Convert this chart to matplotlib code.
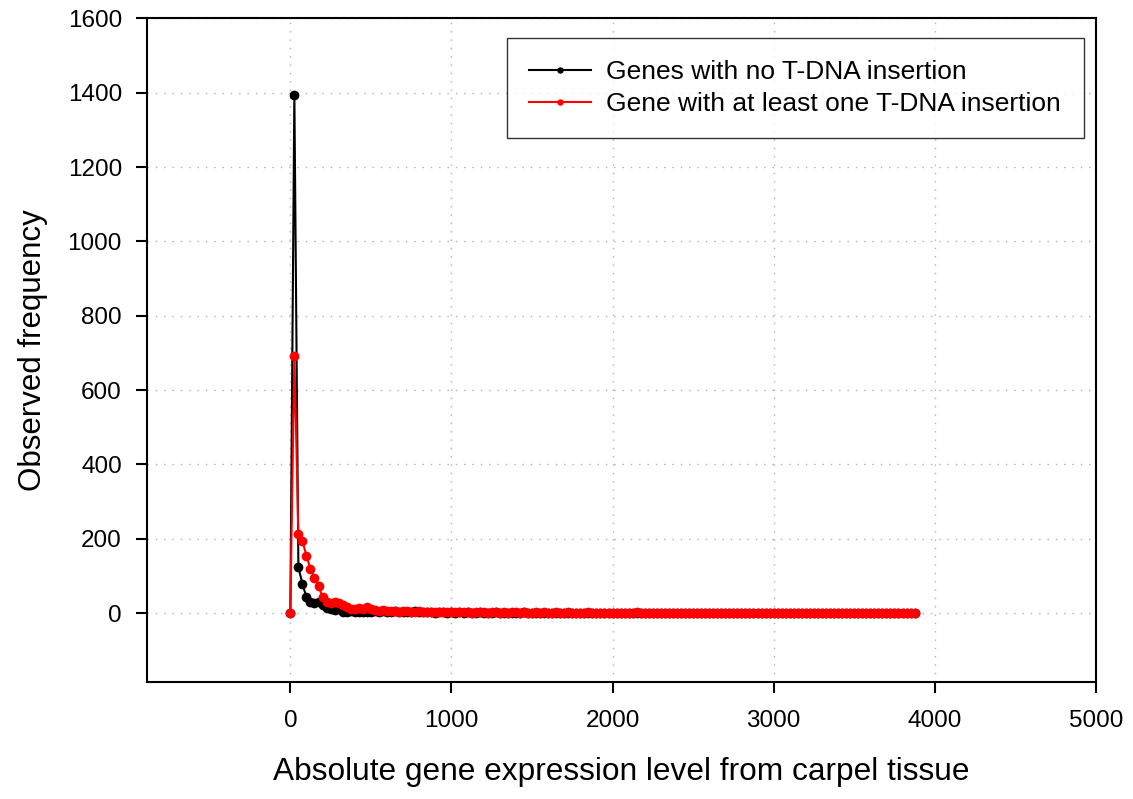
import numpy as np
import matplotlib
matplotlib.use("Agg")
import matplotlib.pyplot as plt

plt.rcParams['font.family'] = ['Liberation Sans', 'DejaVu Sans']

# expression level bins (step 25)
expr_bins = np.arange(0, 3900, 25)

no_insertion = [
    0, 1395, 124, 79, 43, 31, 28, 30, 21, 13, 12, 9, 10, 4, 3, 5, 3, 2, 4, 3,
    2, 6, 3, 5, 4, 2, 5, 3, 4, 2, 3, 5, 2, 4, 3, 2, 1, 3, 2, 1,
    2, 1, 3, 1, 2, 1, 1, 2, 1, 0, 1, 2, 1, 1, 0, 1, 1, 0, 2, 1,
    0, 1, 1, 0, 1, 0, 1, 1, 0, 0, 1, 0, 1, 0, 0, 1, 0, 1, 0, 0,
    1, 0, 0, 1, 0, 0, 0, 1, 0, 0, 1, 0, 0, 0, 1, 0, 0, 0, 0, 1,
    0, 0, 1, 0, 0, 0, 0, 1, 0, 0, 0, 0, 1, 0, 0, 0, 0, 0, 1, 0,
    0, 0, 0, 1, 0, 0, 0, 0, 0, 1, 0, 0, 0, 0, 0, 0, 1, 0, 0, 0,
    0, 0, 1, 0, 0, 0, 0, 0, 0, 0, 1, 0, 0, 0, 0, 0,
]

with_insertion = [
    0, 692, 213, 194, 155, 119, 94, 74, 43, 31, 27, 31, 27, 21, 16, 12, 10, 15, 12, 16,
    10, 8, 7, 9, 6, 5, 7, 4, 5, 6, 4, 3, 5, 4, 3, 4, 2, 3, 4, 3,
    2, 3, 2, 4, 2, 1, 3, 2, 2, 1, 3, 2, 1, 2, 1, 2, 3, 1, 2, 1,
    1, 2, 1, 2, 1, 1, 2, 1, 1, 2, 1, 1, 0, 1, 2, 1, 1, 0, 1, 1,
    1, 0, 1, 1, 0, 1, 2, 0, 1, 1, 0, 1, 0, 1, 1, 0, 1, 0, 1, 0,
    1, 0, 0, 1, 1, 0, 1, 0, 0, 1, 0, 1, 0, 0, 1, 0, 0, 1, 0, 0,
    1, 0, 0, 0, 1, 0, 1, 0, 0, 0, 1, 0, 0, 1, 0, 0, 0, 1, 0, 0,
    0, 1, 0, 0, 0, 1, 0, 0, 0, 0, 1, 0, 0, 0, 0, 1,
]

labels = ["Genes with no T-DNA insertion", "Gene with at least one T-DNA insertion"]

fig = plt.figure(figsize=(11.33, 7.99), dpi=100)
ax = fig.add_axes([0.1297, 0.1465, 0.8375, 0.8305])

ax.plot(expr_bins, no_insertion, color='black', marker='o', markersize=6,
        linewidth=1.5, label=labels[0])
ax.plot(expr_bins, with_insertion, color='red', marker='o', markersize=6,
        linewidth=1.5, label=labels[1])

ax.set_xlim(-890, 5000)
ax.set_ylim(-185, 1600)
ax.set_xticks(np.arange(0, 5001, 1000))
ax.set_yticks(np.arange(0, 1601, 200))
ax.grid(True, color='#b0b0b0', linestyle=(0, (1, 5)), linewidth=1)
ax.tick_params(direction='out', length=8, width=1.5, labelsize=17.5)
ax.tick_params(axis='x', pad=12)
ax.tick_params(axis='y', pad=10)
for s in ax.spines.values():
    s.set_linewidth(1.5)

ax.set_xlabel("Absolute gene expression level from carpel tissue", fontsize=22.8, labelpad=18)
ax.set_ylabel("Observed frequency", fontsize=22.5, labelpad=14)

leg = ax.legend(loc='upper right', bbox_to_anchor=(0.987, 0.971), fontsize=19,
                fancybox=False, edgecolor='black', markerscale=0.6,
                handlelength=2.35, borderpad=0.85, labelspacing=0.3,
                handletextpad=0.57, borderaxespad=0)
leg.get_frame().set_linewidth(1.0)

fig.savefig("out.png", dpi=100)
